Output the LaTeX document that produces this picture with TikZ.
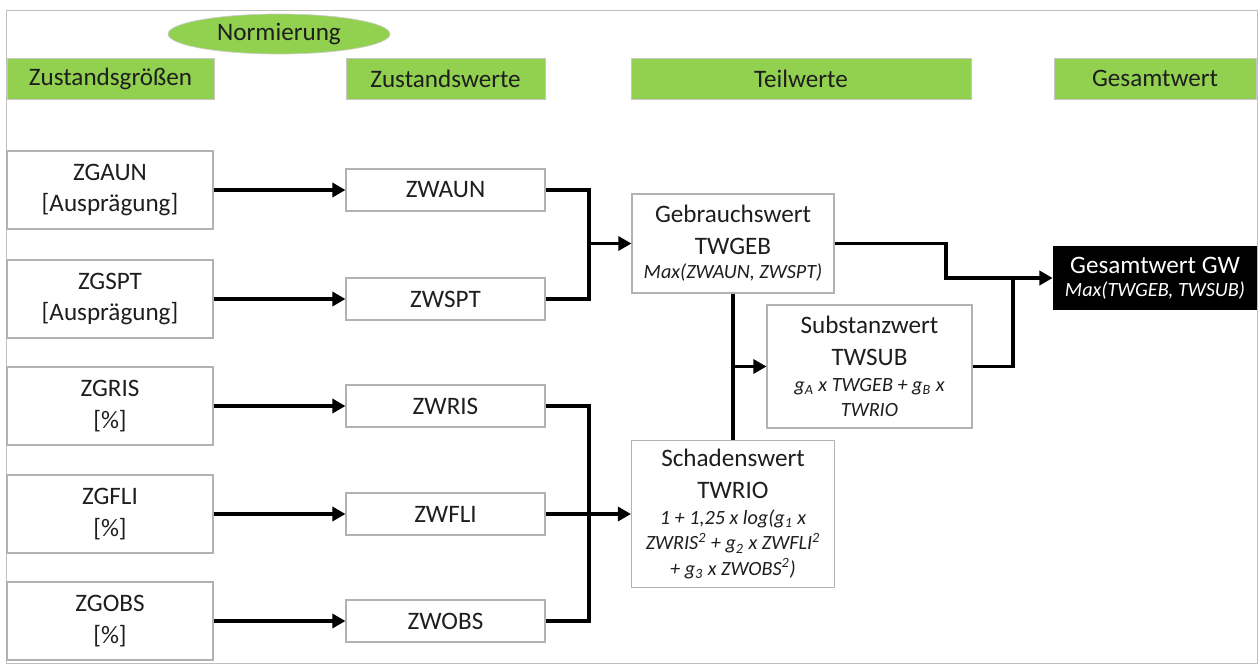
\documentclass[tikz,border=0pt]{standalone}
\usepackage{fontspec}
\setmainfont{Carlito}
\usetikzlibrary{arrows.meta,shapes.geometric}
\definecolor{headgreen}{RGB}{146,208,80}
\definecolor{textgray}{RGB}{30,30,30}
\newcommand{\formel}[2][3.8cm]{\parbox[t]{#1}{\centering\fontsize{11.5}{14.5}\selectfont\itshape #2}}
\tikzset{
  header/.style={fill=headgreen, draw=gray!45, line width=0.4pt, inner sep=0pt, minimum height=0.82cm, text=textgray},
  valbox/.style={draw=gray!60, line width=0.6pt, fill=white, inner sep=0pt, align=center, text=textgray},
  flow/.style={line width=2.2pt, -{Triangle[length=7.5pt,width=8pt]}},
  link/.style={line width=2.2pt},
}
\begin{document}
\begin{tikzpicture}[x=0.02cm, y=-0.02cm, font=\fontsize{14.3}{18}\selectfont]
  \useasboundingbox (0,0) rectangle (1259,664);

  % Drawing frame
  \draw [gray!50, line width=0.5pt] (6,10) rectangle (1257,663);%

  % Drawing headers
  \node [ellipse, fill=headgreen, draw=gray!40, inner sep=0pt, minimum width=4.44cm, minimum height=0.8cm, text=textgray] (norm) at (279,34) {Normierung};%
  \node [header, minimum width=4.14cm] (hgroe) at (110.5,78.5) {Zustandsgrößen};%
  \node [header, minimum width=3.98cm] (hwert) at (445.5,78.5) {Zustandswerte};%
  \node [header, minimum width=6.8cm] (hteil) at (801,78.5) {Teilwerte};%
  \node [header, minimum width=4.04cm] (hges) at (1155,78.5) {Gesamtwert};%

  % Drawing Zustandsgroessen
  \node [valbox, minimum width=4.12cm, minimum height=1.56cm] (zgaun) at (110,190) {ZGAUN\\{[Ausprägung]}};%
  \node [valbox, minimum width=4.12cm, minimum height=1.56cm] (zgspt) at (110,299) {ZGSPT\\{[Ausprägung]}};%
  \node [valbox, minimum width=4.12cm, minimum height=1.56cm] (zgris) at (110,406) {ZGRIS\\{[\%]}};%
  \node [valbox, minimum width=4.12cm, minimum height=1.56cm] (zgfli) at (110,514) {ZGFLI\\{[\%]}};%
  \node [valbox, minimum width=4.12cm, minimum height=1.56cm] (zgobs) at (110,621) {ZGOBS\\{[\%]}};%

  % Drawing Zustandswerte
  \node [valbox, minimum width=3.98cm, minimum height=0.84cm] (zwaun) at (445.5,190) {ZWAUN};%
  \node [valbox, minimum width=3.98cm, minimum height=0.84cm] (zwspt) at (445.5,299) {ZWSPT};%
  \node [valbox, minimum width=3.98cm, minimum height=0.84cm] (zwris) at (445.5,406) {ZWRIS};%
  \node [valbox, minimum width=3.98cm, minimum height=0.84cm] (zwfli) at (445.5,514) {ZWFLI};%
  \node [valbox, minimum width=3.98cm, minimum height=0.84cm] (zwobs) at (445.5,621) {ZWOBS};%

  % Drawing Teilwerte
  \node [valbox, minimum width=4.04cm, minimum height=1.98cm] (twgeb) at (733,243.5) {Gebrauchswert\\TWGEB\\[-4pt]\formel{Max(ZWAUN, ZWSPT)}};%
  \node [valbox, minimum width=4.1cm, minimum height=2.46cm] (twsub) at (869.5,366.5) {Substanzwert\\TWSUB\\[-3pt]\formel{g\textsubscript{A} x TWGEB + g\textsubscript{B} x\\TWRIO}};%
  \node [valbox, minimum width=4.06cm, minimum height=2.94cm] (twrio) at (733,514) {Schadenswert\\TWRIO\\[-3pt]\formel[4cm]{1 + 1,25 x log(g\textsubscript{1} x\\ZWRIS\textsuperscript{2} + g\textsubscript{2} x ZWFLI\textsuperscript{2}\\+ g\textsubscript{3} x ZWOBS\textsuperscript{2})}};%

  % Drawing Gesamtwert
  \node [fill=black, text=white, inner sep=0pt, align=center, minimum width=4.08cm, minimum height=1.28cm] (gw) at (1155,278) {Gesamtwert GW\\[-5pt]\formel[3.9cm]{Max(TWGEB, TWSUB)}};%

  % Drawing Normierung arrows
  \draw [flow] (zgaun.east) -- (zwaun.west);%
  \draw [flow] (zgspt.east) -- (zwspt.west);%
  \draw [flow] (zgris.east) -- (zwris.west);%
  \draw [flow] (zgfli.east) -- (zwfli.west);%
  \draw [flow] (zgobs.east) -- (zwobs.west);%

  % Drawing junction to TWGEB
  \coordinate (jgeb) at (589,243.5);%
  \draw [link] (zwaun.east) -| (jgeb) |- (zwspt.east);%
  \draw [flow] (jgeb) -- (twgeb.west);%

  % Drawing junction to TWRIO
  \coordinate (jrio) at (589,514);%
  \draw [link] (zwris.east) -| (jrio) |- (zwobs.east);%
  \draw [flow] (zwfli.east) -- (twrio.west);%

  % Drawing line TWGEB TWRIO and arrow to TWSUB
  \draw [link] (twgeb.south) -- (twrio.north);%
  \draw [flow] (twgeb.south |- twsub.west) -- (twsub.west);%

  % Drawing junction to GW
  \coordinate (kgeb) at (946,278);%
  \coordinate (jgw) at (1013,278);%
  \draw [link] (twgeb.east) -| (kgeb) -- (jgw);%
  \draw [link] (twsub.east) -| (jgw);%
  \draw [flow] (jgw) -- (gw.west |- jgw);%
\end{tikzpicture}
\end{document}
